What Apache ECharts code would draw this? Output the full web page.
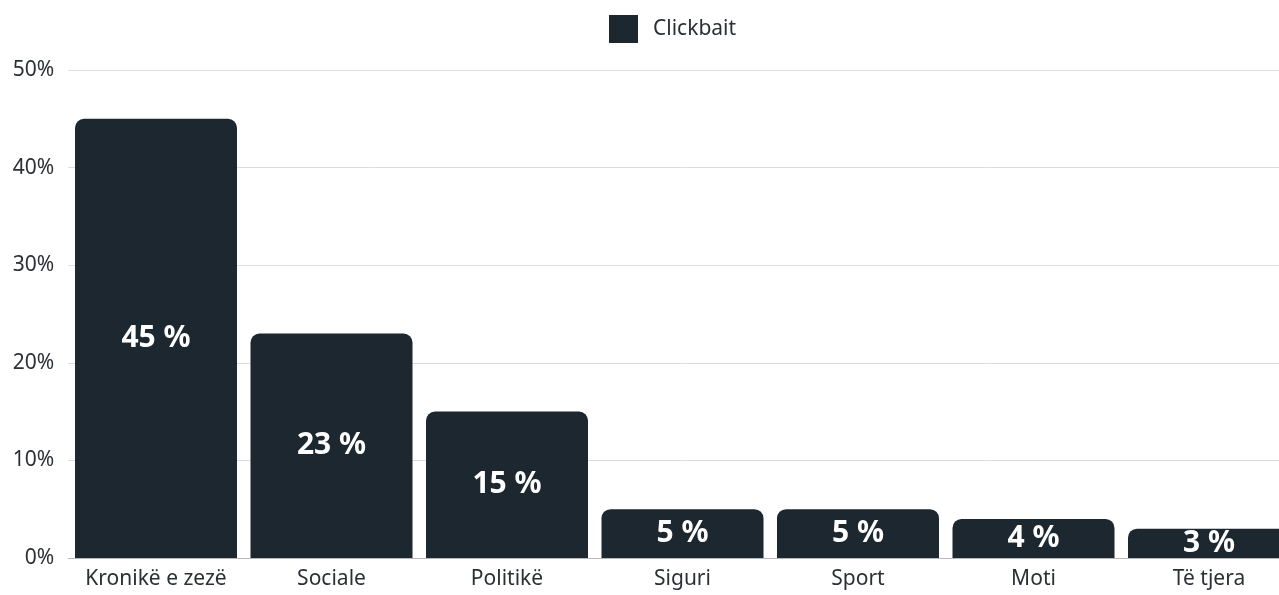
<!DOCTYPE html>
<html>
<head>
<meta charset="utf-8">
<script src="https://cdn.jsdelivr.net/npm/echarts@6/dist/echarts.min.js"></script>
<style>
  html, body { margin: 0; padding: 0; background: #fff; overflow: hidden; }
  /* chart is a bit wider than the window: the last bar is cut off at the right edge */
  #chart { width: 1300px; height: 595px; }
</style>
</head>
<body>
<div id="chart"></div>
<script>
// categories and values (percent)
var categories = ['Kronikë e zezë', 'Sociale', 'Politikë', 'Siguri', 'Sport', 'Moti', 'Të tjera'];
var clickbait = [45, 23, 15, 5, 5, 4, 3];
var seriesName = 'Clickbait';

var chart = echarts.init(document.getElementById('chart'));
var fontFamily = '"Noto Sans", "DejaVu Sans", sans-serif';
var textColor = '#2b3035';

var option = {
    animation: false,
    legend: {
        data: [seriesName],
        left: 609,
        top: 15,
        padding: 0,
        itemWidth: 29,
        itemHeight: 28,
        icon: 'rect',
        textStyle: {
            color: textColor,
            fontSize: 21,
            fontFamily: fontFamily,
            padding: [5, 0, 0, 10]
        }
    },
    grid: {
        left: 68.25,
        top: 70,
        bottom: 37,
        right: 3.25
    },
    xAxis: {
        type: 'category',
        data: categories,
        axisTick: { show: false },
        axisLine: { lineStyle: { color: '#b8b8b8', width: 1 } },
        axisLabel: {
            color: textColor,
            fontSize: 21,
            fontFamily: fontFamily,
            margin: 11,
            interval: 0
        }
    },
    yAxis: {
        type: 'value',
        min: 0,
        max: 50,
        interval: 10,
        axisLine: { show: false },
        axisTick: { show: false },
        splitLine: { lineStyle: { color: '#dcdcdc', width: 1 } },
        axisLabel: {
            formatter: '{value}%',
            color: textColor,
            fontSize: 21,
            fontFamily: fontFamily,
            margin: 14
        }
    },
    series: [
        {
            name: seriesName,
            type: 'bar',
            data: clickbait,
            barWidth: 162,
            itemStyle: {
                color: '#1c2730',
                borderRadius: [9, 9, 0, 0]
            },
            label: {
                show: true,
                position: 'inside',
                formatter: '{c} %',
                color: '#fff',
                fontSize: 30,
                fontWeight: 'bold',
                fontFamily: fontFamily
            }
        }
    ]
};

option && chart.setOption(option);
window.addEventListener('resize', function () {
    chart.resize();
});
</script>
</body>
</html>
